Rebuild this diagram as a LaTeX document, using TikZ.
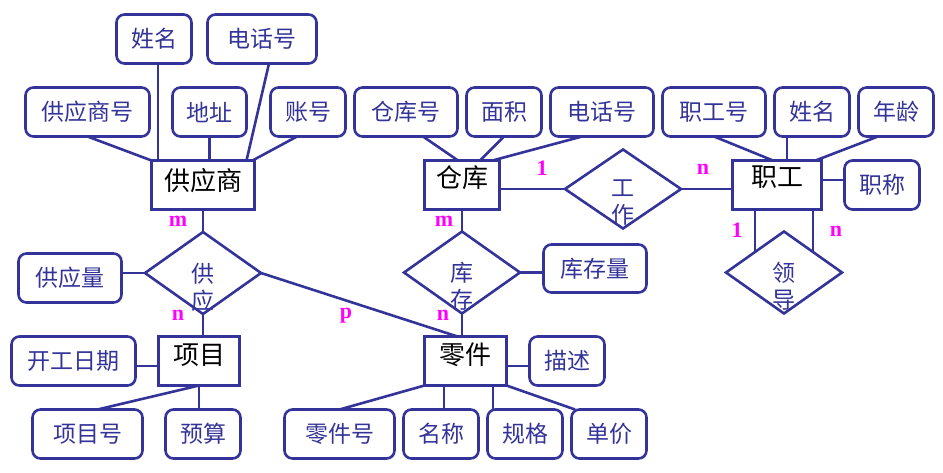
\documentclass[tikz,border=0pt]{standalone}
\usepackage{fontspec}
\newfontfamily\cjk{Noto Sans CJK SC}
\newfontfamily\cardfont{Liberation Serif}
\usetikzlibrary{shapes.geometric}
\definecolor{erblue}{RGB}{51,51,153}
\definecolor{ermag}{RGB}{255,0,255}
\begin{document}
\begin{tikzpicture}[x=1pt,y=-1pt,
  every node/.style={inner sep=0pt, outer sep=0pt},
  attr/.style={draw=erblue, line width=2.6pt, rounded corners=8pt, minimum height=49pt, text=erblue, font=\cjk\fontsize{23}{27}\selectfont},
  ent/.style={draw=erblue, line width=2.6pt, minimum height=49pt},
  etext/.style={text=black, font=\cjk\fontsize{26}{28}\selectfont},
  rel/.style={draw=erblue, line width=2.6pt, diamond, minimum width=116pt, minimum height=82pt},
  rtext/.style={text=erblue, align=center, font=\cjk\fontsize{23}{27}\selectfont},
  card/.style={text=ermag, font=\cardfont\bfseries\fontsize{22}{24}\selectfont},
  conn/.style={draw=erblue, line width=2.6pt}
]
\useasboundingbox (0,0) rectangle (943,472);

% entities
\node[ent, minimum width=103pt, label={[etext,yshift=4.5pt]center:供应商}] (sup) at (203,185) {};
\node[ent, minimum width=75pt, label={[etext,yshift=7.5pt]center:仓库}] (wh) at (462,185) {};
\node[ent, minimum width=89pt, label={[etext,yshift=8pt]center:职工}] (emp) at (777,185) {};
\node[ent, minimum width=81pt, label={[etext,yshift=6pt]center:项目}] (proj) at (199,361) {};
\node[ent, minimum width=82pt, label={[etext,yshift=6pt]center:零件}] (part) at (465.5,361) {};

% relationships
\node[rel, label={[rtext,yshift=-14pt]center:{供\\应}}] (supply) at (203,273) {};
\node[rel, label={[rtext,yshift=-14pt]center:{库\\存}}] (stock) at (462,272.5) {};
\node[rel, minimum height=79pt, label={[rtext,yshift=-14pt]center:{工\\作}}] (work) at (623,189) {};
\node[rel, label={[rtext,yshift=-14pt]center:{领\\导}}] (lead) at (784,272.5) {};

% attributes
\node[attr, minimum width=75pt] (s_name) at (154,39) {姓名};
\node[attr, minimum width=109pt] (s_tel) at (262,39) {电话号};
\node[attr, minimum width=124pt] (s_no) at (87.5,112) {供应商号};
\node[attr, minimum width=74pt] (s_addr) at (209.5,112) {地址};
\node[attr, minimum width=75pt] (s_acc) at (308,112) {账号};
\node[attr, minimum width=103pt] (w_no) at (406,112) {仓库号};
\node[attr, minimum width=75pt] (w_area) at (504,112) {面积};
\node[attr, minimum width=103pt] (w_tel) at (602,112) {电话号};
\node[attr, minimum width=103pt] (e_no) at (714,112) {职工号};
\node[attr, minimum width=75pt] (e_name) at (812,112) {姓名};
\node[attr, minimum width=75pt] (e_age) at (896,112) {年龄};
\node[attr, minimum width=75pt] (e_title) at (882,185) {职称};
\node[attr, minimum width=103pt] (sup_amt) at (70,278) {供应量};
\node[attr, minimum width=124pt] (p_date) at (73.5,361) {开工日期};
\node[attr, minimum width=110pt] (p_no) at (87.5,434) {项目号};
\node[attr, minimum width=75pt] (p_budget) at (203,434) {预算};
\node[attr, minimum width=103pt, minimum height=48pt] (stock_amt) at (595,268.5) {库存量};
\node[attr, minimum width=75pt] (pa_desc) at (567,361) {描述};
\node[attr, minimum width=110pt] (pa_no) at (339.5,434) {零件号};
\node[attr, minimum width=75pt] (pa_name) at (441,434) {名称};
\node[attr, minimum width=75pt] (pa_spec) at (525,434) {规格};
\node[attr, minimum width=75pt] (pa_price) at (609,434) {单价};

% supplier attributes
\draw[conn] (s_no.south) -- (sup.north west);
\draw[conn] ([xshift=4pt]s_name.south) -- ([xshift=4pt]s_name.south |- sup.north);
\draw[conn] (s_addr.south) -- (s_addr.south |- sup.north);
\draw[conn] ([xshift=7pt]s_tel.south) -- ([xshift=-8pt]sup.north east);
\draw[conn] ([xshift=-11pt]s_acc.south) -- ([xshift=-2pt]sup.north east);
% warehouse attributes
\draw[conn] ([xshift=17pt]w_no.south) -- ([xshift=-4pt]wh.north);
\draw[conn] (w_area.south) -- ([xshift=18pt]wh.north);
\draw[conn] ([xshift=-20pt]w_tel.south) -- ([xshift=-7pt]wh.north east);
% employee attributes
\draw[conn] (e_no.south) -- ([xshift=-4pt]emp.north);
\draw[conn] ([xshift=10pt]emp.north) -- ([xshift=10pt]emp.north |- e_name.south);
\draw[conn] ([xshift=-18pt]e_age.south) -- ([xshift=-6pt]emp.north east);
\draw[conn] ([yshift=5pt]emp.east) -- ([yshift=5pt]emp.east -| e_title.west);
% relationships
\draw[conn] (sup.south) -- (supply.north);
\draw[conn] (supply.south) -- (supply.south |- proj.north);
\draw[conn] (supply.west) -- (supply.west -| sup_amt.east);
\draw[conn] (supply.east) -- ([xshift=-8pt]part.north);
\draw[conn] (wh.south) -- (stock.north);
\draw[conn] (stock.south) -- (stock.south |- part.north);
\draw[conn] (stock.east) -- (stock.east -| stock_amt.west);
\draw[conn] (work.west -| wh.east) -- (work.west);
\draw[conn] (work.east) -- (work.east -| emp.west);
\draw[conn] (lead.north west |- emp.south) -- (lead.north west);
\draw[conn] (lead.north east |- emp.south) -- (lead.north east);
% project attributes
\draw[conn] ([yshift=-5pt]proj.west) -- ([yshift=-5pt]proj.west -| p_date.east);
\draw[conn] ([xshift=10pt]p_no.north) -- (proj.south);
\draw[conn] (proj.south) -- (proj.south |- p_budget.north);
% part attributes
\draw[conn] ([yshift=-5pt]part.east) -- ([yshift=-5pt]part.east -| pa_desc.west);
\draw[conn] (pa_no.north) -- (part.south west);
\draw[conn] ([xshift=3pt]pa_name.north) -- ([xshift=3pt]pa_name.north |- part.south);
\draw[conn] ([xshift=-32pt]pa_spec.north) -- ([xshift=-32pt]pa_spec.north |- part.south);
\draw[conn] ([xshift=-34pt]pa_price.north) -- (part.south east);

% cardinalities
\node[card] (c1) at (178,221) {m};
\node[card] (c2) at (178,315) {n};
\node[card] (c3) at (346,316) {p};
\node[card] (c4) at (444,221) {m};
\node[card] (c5) at (443,315) {n};
\node[card] (c6) at (542,168) {1};
\node[card] (c7) at (703,169) {n};
\node[card] (c8) at (737,230) {1};
\node[card] (c9) at (836,231) {n};
\end{tikzpicture}
\end{document}
